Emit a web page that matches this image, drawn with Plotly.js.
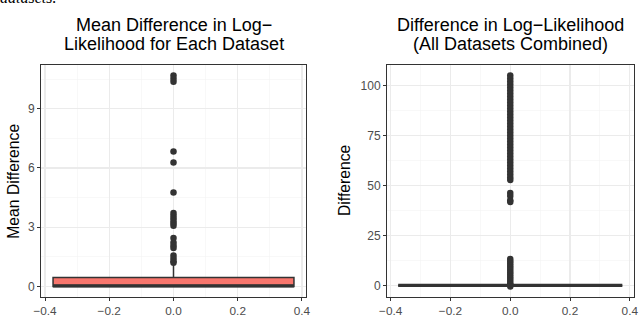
<!DOCTYPE html>
<html>
<head>
<meta charset="utf-8">
<script src="https://cdn.plot.ly/plotly-3.0.1.min.js"></script>
<style>html,body{margin:0;padding:0;background:#fff;}#chart{width:640px;height:316px;}</style>
</head>
<body>
<div id="chart"></div>
<script>
// ---- Data ----
// Left panel: mean difference per dataset
const leftStats = {q1: 0, median: 0.03, q3: 0.45, lowerfence: 0, upperfence: 1.08};
const leftOutliers = [10.68, 10.52, 10.36, 6.83, 6.28, 4.76, 3.72, 3.58, 3.45, 3.32, 3.2, 3.08, 2.45, 2.22, 2.08, 1.95, 1.57, 1.42, 1.28, 1.2];
// Right panel: all datasets combined
const rightStats = {q1: 0, median: 0, q3: 0, lowerfence: 0, upperfence: 0};
const rightOutliers = [105, 103.5, 102, 100.5, 99, 97.5, 96, 94.5, 93, 91.5, 90, 88.5, 87, 85.5, 84, 82.5, 81, 79.5, 78, 76.5, 75, 73.5, 72, 70.5, 69, 67.5, 66, 64.5, 63, 61.5, 60, 58.5, 57, 55.5, 54, 52.8,
  46.2, 44.8, 42.6, 41.8,
  13.2, 12.1, 11, 9.9, 8.8, 7.7, 6.6, 5.5, 4.4, 3.3, 2.2, 1.1, 0.4, -0.5];
const xTickVals = [-0.4, -0.2, 0.0, 0.2, 0.4];
const titles = [["Mean Difference in Log\u2212", "Likelihood for Each Dataset"], ["Difference in Log\u2212Likelihood", "(All Datasets Combined)"]];
const yTitles = ["Mean Difference", "Difference"];
const leftYTicks = [0, 3, 6, 9];
const rightYTicks = [0, 25, 50, 75, 100];

// ---- Styling ----
const BOXW = 0.75;
const DARK = '#333333';
const FILL = '#F8766D';
const FONT = 'Liberation Sans, Arial, sans-serif';

function boxTrace(stats, xa, ya) {
  return {
    type: 'box', x: [0], q1: [stats.q1], median: [stats.median], q3: [stats.q3],
    lowerfence: [stats.lowerfence], upperfence: [stats.upperfence],
    width: BOXW, whiskerwidth: 0, fillcolor: FILL, line: {color: DARK, width: 1.5},
    boxpoints: false, hoverinfo: 'skip', xaxis: xa, yaxis: ya, showlegend: false
  };
}
function medianTrace(stats, xa, ya) {
  return {
    type: 'scatter', mode: 'lines', x: [-BOXW / 2, BOXW / 2], y: [stats.median, stats.median],
    line: {color: DARK, width: 3.2}, xaxis: xa, yaxis: ya, showlegend: false, hoverinfo: 'skip'
  };
}
function outlierTrace(vals, xa, ya) {
  return {
    type: 'scatter', mode: 'markers', x: vals.map(() => 0), y: vals,
    marker: {color: DARK, size: 6.5}, xaxis: xa, yaxis: ya, showlegend: false, hoverinfo: 'skip'
  };
}
function expand(vals) {
  const lo = Math.min(...vals), hi = Math.max(...vals), pad = (hi - lo) * 0.05;
  return [lo - pad, hi + pad];
}

const data = [
  boxTrace(leftStats, 'x', 'y'), outlierTrace(leftOutliers, 'x', 'y'), medianTrace(leftStats, 'x', 'y'),
  boxTrace(rightStats, 'x2', 'y2'), outlierTrace(rightOutliers, 'x2', 'y2'), medianTrace(rightStats, 'x2', 'y2')
];

const W = 640, H = 316;
const yDom = [1 - 297 / H, 1 - 65 / H];
const xDom1 = [41 / W, 306 / W];
const xDom2 = [387 / W, 633.5 / W];

function xAxis(dom, anchor) {
  return {
    domain: dom, anchor: anchor, range: [-0.4125, 0.4125],
    tickmode: 'array', tickvals: xTickVals, tickformat: '.1f',
    ticks: 'outside', ticklen: 3, tickwidth: 1, tickcolor: DARK, ticklabelstandoff: -1.5,
    tickfont: {family: FONT, size: 11.8, color: '#4D4D4D'},
    showgrid: true, gridcolor: '#EBEBEB', gridwidth: 1.1,
    minor: {tickmode: 'array', tickvals: [-0.3, -0.1, 0.1, 0.3], showgrid: true, gridcolor: '#F4F4F4', gridwidth: 0.6, ticks: ''},
    showline: true, mirror: true, linecolor: DARK, linewidth: 1, zeroline: false, fixedrange: true
  };
}
function yAxis(range, ticks, anchor) {
  const step = ticks[1] - ticks[0];
  const minorVals = ticks.map(t => t + step / 2).concat([ticks[0] - step / 2]);
  return {
    domain: yDom, anchor: anchor, range: range,
    tickmode: 'array', tickvals: ticks,
    ticks: 'outside', ticklen: 3, tickwidth: 1, tickcolor: DARK,
    tickfont: {family: FONT, size: 12, color: '#4D4D4D'},
    showgrid: true, gridcolor: '#EBEBEB', gridwidth: 1.1,
    minor: {tickmode: 'array', tickvals: minorVals, showgrid: true, gridcolor: '#F4F4F4', gridwidth: 0.6, ticks: ''},
    showline: true, mirror: true, linecolor: DARK, linewidth: 1, zeroline: false, fixedrange: true
  };
}

const leftRange = expand(leftOutliers.concat([leftStats.q1, leftStats.lowerfence]));
const rightRange = expand(rightOutliers.concat([rightStats.q1]));

const cx1 = (xDom1[0] + xDom1[1]) / 2, cx2 = (xDom2[0] + xDom2[1]) / 2;
const annotations = [];
[cx1, cx2].forEach((cx, i) => {
  titles[i].forEach((line, j) => {
    annotations.push({text: line, xref: 'paper', yref: 'paper', x: cx, y: 1 - (25.5 + 19 * j) / H,
      xanchor: 'center', yanchor: 'middle', showarrow: false, font: {family: FONT, size: 18, color: '#000'}});
  });
});
annotations.push({text: yTitles[0], xref: 'paper', yref: 'paper', x: 12.7 / W, y: 1 - 181 / H, textangle: -90,
  xanchor: 'center', yanchor: 'middle', showarrow: false, font: {family: FONT, size: 15.7, color: '#000'}});
annotations.push({text: yTitles[1], xref: 'paper', yref: 'paper', x: 344 / W, y: 1 - 181 / H, textangle: -90,
  xanchor: 'center', yanchor: 'middle', showarrow: false, font: {family: FONT, size: 15.7, color: '#000'}});
// cropped text from the surrounding document
annotations.push({text: '<i>datasets.</i>', xref: 'paper', yref: 'paper', x: -2 / W, y: 1 + 2 / H,
  xanchor: 'left', yanchor: 'middle', showarrow: false, font: {family: 'Liberation Serif, serif', size: 16, color: '#000'}});

const layout = {
  width: W, height: H, margin: {l: 0, r: 0, t: 0, b: 0},
  paper_bgcolor: '#fff', plot_bgcolor: '#fff', showlegend: false,
  xaxis: xAxis(xDom1, 'y'), yaxis: yAxis(leftRange, leftYTicks, 'x'),
  xaxis2: xAxis(xDom2, 'y2'), yaxis2: yAxis(rightRange, rightYTicks, 'x2'),
  annotations: annotations
};

Plotly.newPlot('chart', data, layout, {displayModeBar: false, staticPlot: true});
</script>
</body>
</html>
